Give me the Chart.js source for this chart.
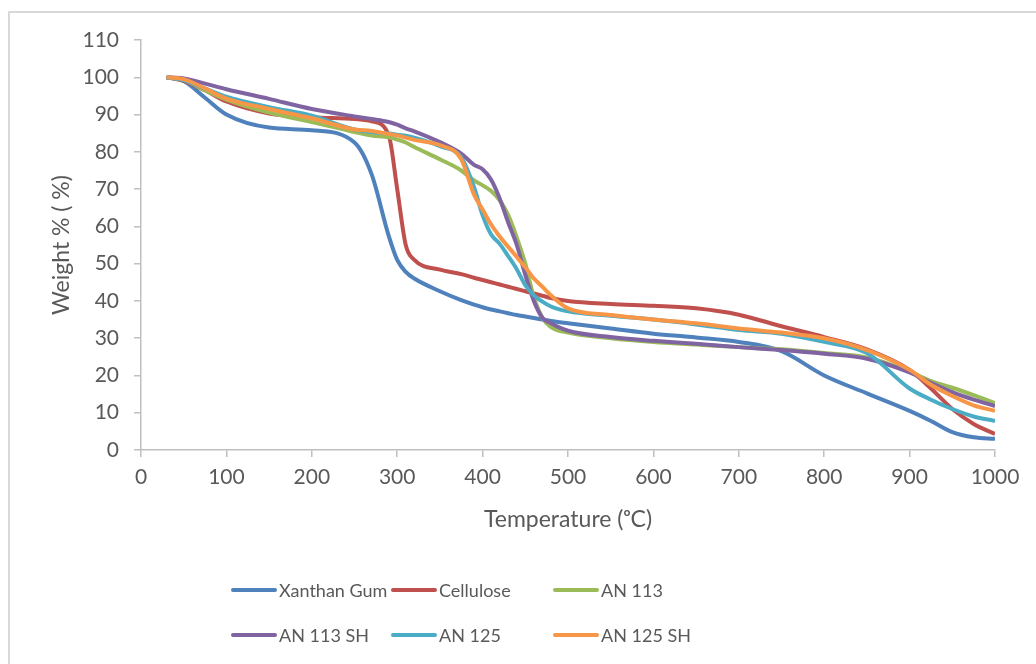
<!DOCTYPE html>
<html>
<head>
<meta charset="utf-8">
<script src="https://cdn.jsdelivr.net/npm/chart.js@4"></script>
<style>
  html, body { margin: 0; padding: 0; background: #fff; overflow: hidden; }
  #frame { position: absolute; left: 8px; top: 11px; width: 1100px; height: 700px;
           border-left: 2px solid #d9d9d9; border-top: 2px solid #d9d9d9; }
  #wrap { position: absolute; left: 0; top: 0; width: 1036px; height: 664px; }
</style>
</head>
<body>
<div id="frame"></div>
<div id="wrap"><canvas id="tga" width="1036" height="664"></canvas></div>
<script>
// temperature grid (oC) shared by all series
var temps = [30, 50, 75, 100, 150, 200, 250, 270, 290, 300, 310, 320, 350, 375, 390, 400, 410, 420, 430,
             440, 450, 460, 470, 480, 500, 550, 600, 650, 700, 750, 800, 850, 900, 925, 950, 975, 1000];

var xanthanGum = [100, 99, 94.5, 90, 86.5, 85.8, 82.5, 74, 57.5, 51, 47.8, 46, 42.6, 40.2, 39, 38.3, 37.7, 37.2, 36.7,
                  36.2, 35.8, 35.4, 35, 34.6, 34, 32.6, 31.2, 30.2, 29, 26.5, 20, 15.2, 10.5, 7.8, 4.8, 3.4, 3];
var cellulose = [100, 99, 96.5, 93.5, 90.3, 89.3, 88.8, 88.2, 84.5, 70, 55, 51, 48.4, 47.2, 46.2, 45.6, 45, 44.4, 43.8,
                 43.2, 42.6, 42, 41.4, 40.8, 40, 39.2, 38.7, 38, 36.3, 33.2, 30.3, 27, 21.5, 16.5, 11, 7, 4.3];
var an113 = [100, 99.3, 96.5, 94, 90.5, 88, 85.3, 84.4, 83.9, 83.3, 82.5, 81.3, 78, 75, 72.3, 71, 69.5, 67, 63,
             57, 50, 41, 35.5, 33, 31.5, 30, 29, 28.3, 27.6, 27, 26, 24.8, 21, 18.5, 16.7, 14.7, 12.6];
var an113sh = [100, 99.7, 98.3, 96.8, 94.2, 91.5, 89.5, 88.8, 88, 87.3, 86.3, 85.5, 82.6, 79.5, 76.5, 75.3, 72.5, 67.5, 61,
               55, 47, 40, 35.5, 34, 32, 30.3, 29.3, 28.5, 27.6, 26.8, 25.8, 24.5, 20.8, 18, 15.5, 13.5, 11.8];
var an125 = [100, 99.2, 97, 94.8, 92, 89.7, 86, 85.3, 84.9, 84.6, 84.3, 83.8, 81.5, 78.5, 70.5, 63, 57.8, 55.3, 52,
             48.5, 44.2, 41.5, 39.8, 38.5, 37.2, 36, 35, 33.7, 32.2, 31.2, 29, 26, 16.5, 13.5, 11, 9, 7.8];
var an125sh = [100, 99.5, 97, 94.3, 91.5, 89, 86, 85.6, 84.8, 84.4, 83.8, 83.2, 81.8, 78, 68.5, 64.5, 60.5, 57.3, 54.5,
               51.8, 49, 46, 43.8, 41.5, 38, 36.2, 35, 34, 32.6, 31.5, 30, 26.8, 21.5, 17.5, 14.5, 12, 10.5];

var seriesNames = ['Xanthan Gum', 'Cellulose', 'AN 113', 'AN 113 SH', 'AN 125', 'AN 125 SH'];
var seriesValues = [xanthanGum, cellulose, an113, an113sh, an125, an125sh];
var seriesColors = ['#4F81BD', '#C0504D', '#9BBB59', '#8064A2', '#4BACC6', '#F79646'];

var textColor = '#595959';
var axisColor = '#bfbfbf';
var fontFamily = 'Lato, "Open Sans", sans-serif';

var datasets = seriesNames.map(function (name, i) {
    return {
        label: name,
        data: temps.map(function (t, j) { return { x: t, y: seriesValues[i][j] }; }),
        borderColor: seriesColors[i],
        backgroundColor: seriesColors[i],
        borderWidth: 4,
        pointRadius: 0,
        fill: false,
        cubicInterpolationMode: 'monotone',
        order: seriesNames.length - i
    };
});

// Excel style legend: fixed 3 columns, 2 rows
var gridLegend = {
    id: 'gridLegend',
    afterDraw: function (chart) {
        var ctx = chart.ctx;
        var colX = [233, 393, 555];
        var rowY = [590, 635];
        ctx.save();
        ctx.font = '18px ' + fontFamily;
        ctx.textBaseline = 'middle';
        ctx.lineCap = 'round';
        chart.data.datasets.forEach(function (ds, i) {
            var x = colX[i % 3], y = rowY[Math.floor(i / 3)];
            ctx.strokeStyle = ds.borderColor;
            ctx.lineWidth = 4;
            ctx.beginPath();
            ctx.moveTo(x, y);
            ctx.lineTo(x + 42, y);
            ctx.stroke();
            ctx.fillStyle = textColor;
            ctx.fillText(ds.label, x + 46, y + 1);
        });
        ctx.restore();
    }
};

new Chart(document.getElementById('tga').getContext('2d'), {
    type: 'line',
    data: { datasets: datasets },
    plugins: [gridLegend],
    options: {
        responsive: false,
        animation: false,
        layout: { padding: { left: 48, right: 41, top: 40, bottom: 130 } },
        plugins: {
            legend: { display: false },
            tooltip: { enabled: false }
        },
        scales: {
            x: {
                type: 'linear',
                min: 0,
                max: 1000,
                afterFit: function (scale) { scale.height = 84; },
                ticks: {
                    stepSize: 100, color: textColor, font: { size: 21, family: fontFamily }, padding: 8, maxRotation: 0,
                    callback: function (v) { return String(v); }
                },
                grid: { drawOnChartArea: false, tickLength: 7, color: axisColor, lineWidth: 1.5 },
                border: { color: axisColor, width: 1.5 },
                title: {
                    display: true,
                    text: 'Temperature (\u1D52C)',
                    color: textColor,
                    font: { size: 23, family: fontFamily },
                    padding: { top: 0, bottom: 1 }
                }
            },
            y: {
                min: 0,
                max: 110,
                afterFit: function (scale) { scale.width = 93; },
                ticks: { stepSize: 10, color: textColor, font: { size: 21, family: fontFamily }, padding: 15 },
                grid: { drawOnChartArea: false, tickLength: 7, color: axisColor, lineWidth: 1.5 },
                border: { color: axisColor, width: 1.5 },
                title: {
                    display: true,
                    text: 'Weight % ( %)',
                    color: textColor,
                    font: { size: 23, family: fontFamily },
                    padding: 0
                }
            }
        }
    }
});
</script>
</body>
</html>
